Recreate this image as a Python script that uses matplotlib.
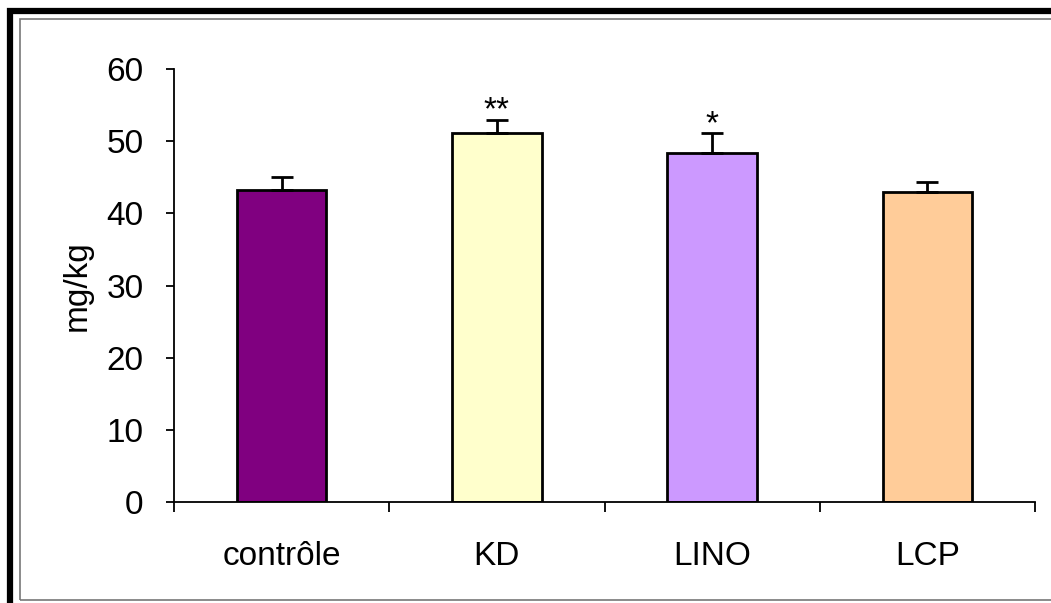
import matplotlib.pyplot as plt
import matplotlib.patches as mpatches

# données
groupes = ['contrôle', 'KD', 'LINO', 'LCP']
moyennes = [43.2, 51.1, 48.3, 42.9]
erreurs = [1.8, 1.9, 2.8, 1.4]
signif = ['', '**', '*', '']
couleurs = ['#800080', '#FFFFCC', '#CC99FF', '#FFCC99']

plt.rcParams['font.family'] = ['Liberation Sans', 'DejaVu Sans']

fig = plt.figure(figsize=(10.51, 6.03), dpi=100)
W, H = 1051, 603

# cadre autour de la figure (noir épais + gris fin)
fig.patches.append(mpatches.Rectangle((9.5 / W, -0.1), 1.2, (H - 10.5) / H + 0.1,
                                      transform=fig.transFigure, fill=False,
                                      edgecolor='black', linewidth=4.5))
fig.patches.append(mpatches.Rectangle((20 / W, (H - 600) / H), 1.2, (600 - 19) / H,
                                      transform=fig.transFigure, fill=False,
                                      edgecolor='#777777', linewidth=1.2))

ax = fig.add_axes([174 / W, (H - 502) / H, (1035 - 174) / W, (502 - 69) / H])

x = range(len(groupes))
ax.bar(x, moyennes, width=0.415, color=couleurs, edgecolor='black', linewidth=2, zorder=2)
ax.errorbar(x, moyennes, yerr=[[0] * 4, erreurs], fmt='none', ecolor='black',
            elinewidth=2, capsize=8, capthick=2, zorder=3)

for i in x:
    if signif[i]:
        ax.annotate(signif[i], (i, moyennes[i] + erreurs[i]), xytext=(0, -5),
                    textcoords='offset points', ha='center', va='bottom', fontsize=24)

ax.set_xlim(-0.5, 3.5)
ax.set_ylim(0, 60)
ax.set_yticks(range(0, 61, 10))
ax.set_xticks(list(x))
ax.set_xticklabels(groupes)
ax.set_xticks([-0.5, 0.5, 1.5, 2.5, 3.5], minor=True)
ax.tick_params(axis='x', which='major', length=0, pad=28, labelsize=24)
ax.tick_params(axis='x', which='minor', length=7, width=1.3, direction='out')
ax.tick_params(axis='y', length=6, width=1.3, pad=16, labelsize=24)
ax.set_ylabel('mg/kg', fontsize=24, labelpad=10)

for s in ['top', 'right']:
    ax.spines[s].set_visible(False)
for s in ['left', 'bottom']:
    ax.spines[s].set_linewidth(1.3)

fig.savefig('out.png', dpi=100, facecolor='white')
